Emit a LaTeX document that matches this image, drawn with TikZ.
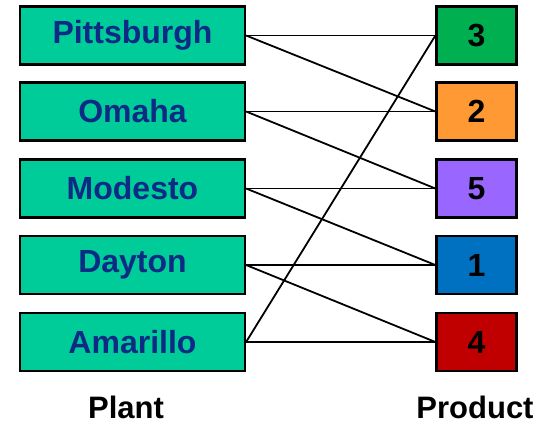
\documentclass[tikz,border=0pt]{standalone}
\usepackage{fontspec}
\setmainfont{Liberation Sans}
\definecolor{plantfill}{HTML}{00CC99}
\definecolor{planttext}{HTML}{0D2A85}
\definecolor{pgreen}{HTML}{00B050}
\definecolor{porange}{HTML}{FF9933}
\definecolor{ppurple}{HTML}{9966FF}
\definecolor{pblue}{HTML}{0070C0}
\definecolor{pred}{HTML}{C00000}
\begin{document}
\begin{tikzpicture}[x=1pt,y=-1pt,
  plantbox/.style={draw=black,line width=2.2pt,fill=plantfill,minimum width=225pt,minimum height=58pt,inner sep=0pt,
    font=\fontsize{32}{33}\selectfont\bfseries,text=planttext},
  prodbox/.style={draw=black,line width=2.2pt,minimum width=80pt,minimum height=58pt,inner sep=0pt,
    font=\fontsize{32}{33}\selectfont\bfseries,text=black},
  link/.style={line width=1.8pt,black},
  caption/.style={font=\fontsize{31}{32}\selectfont\bfseries,text=black,inner sep=0pt}]
\useasboundingbox (0,0) rectangle (536,424);
\node[plantbox] (pitt) at (132.5,35.5) {Pittsburgh};
\node[plantbox] (omaha) at (132.5,111.5) {Omaha};
\node[plantbox] (mod) at (132.5,188.5) {Modesto};
\node[plantbox] (day) at (132.5,265) {Dayton};
\node[plantbox] (ama) at (132.5,342) {Amarillo};
\node[prodbox,fill=pgreen] (p3) at (476.5,35.5) {3};
\node[prodbox,fill=porange] (p2) at (476.5,111.5) {2};
\node[prodbox,fill=ppurple] (p5) at (476.5,188.5) {5};
\node[prodbox,fill=pblue] (p1) at (476.5,265) {1};
\node[prodbox,fill=pred] (p4) at (476.5,342) {4};
\draw[link] (pitt.east) -- (p3.west);
\draw[link] (pitt.east) -- (p2.west);
\draw[link] (omaha.east) -- (p2.west);
\draw[link] (omaha.east) -- (p5.west);
\draw[link] (mod.east) -- (p5.west);
\draw[link] (mod.east) -- (p1.west);
\draw[link] (day.east) -- (p1.west);
\draw[link] (day.east) -- (p4.west);
\draw[link] (ama.east) -- (p4.west);
\draw[link] (ama.east) -- (p3.west);
\node[caption] (plant) at (126,407) {Plant};
\node[caption] (product) at (475,407) {Product};
\end{tikzpicture}
\end{document}
